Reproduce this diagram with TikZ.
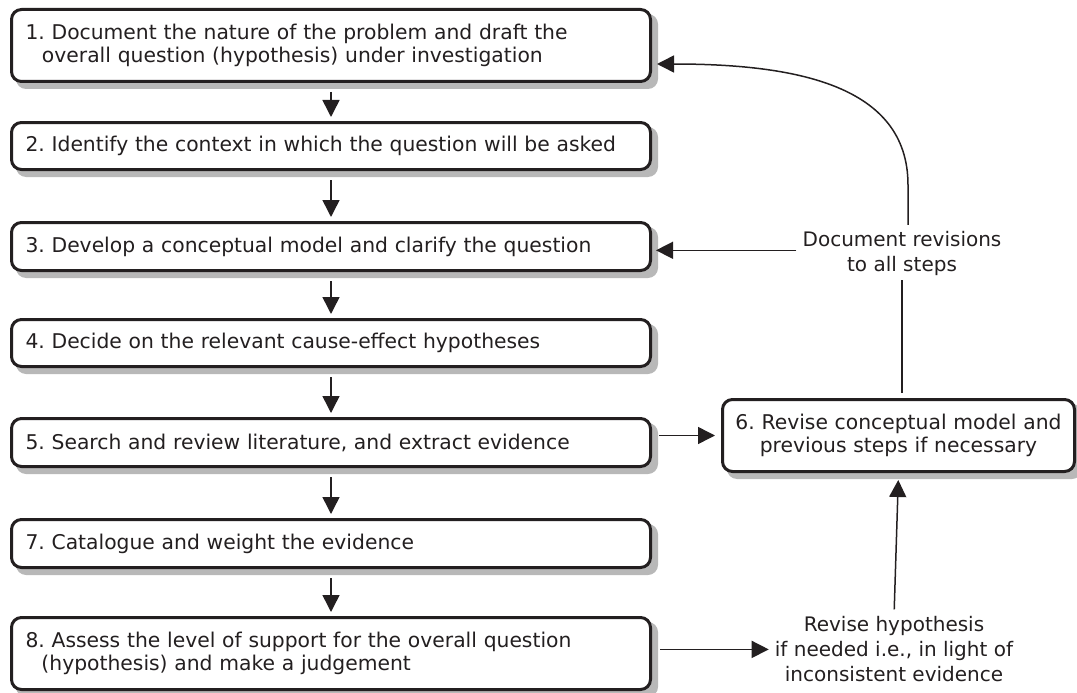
\documentclass[tikz,border=0pt]{standalone}
\usepackage{fontspec}
\setmainfont{DejaVu Sans}
\usetikzlibrary{arrows.meta,calc}
\definecolor{ink}{HTML}{231F20}
\definecolor{shadowgray}{HTML}{B8B8B8}
\pgfdeclarelayer{bg}
\pgfsetlayers{bg,main}
\frenchspacing
\begin{document}
\begin{tikzpicture}[x=1pt,y=-1pt,
  box/.style={draw=ink, line width=3pt, rounded corners=10pt, fill=white, text=ink,
    align=left, inner xsep=14pt, inner ysep=0pt, minimum width=639pt, text width=611pt,
    font=\fontsize{20.3}{23.5}\selectfont},
  sidebox/.style={box, align=center, minimum width=352pt, text width=340pt, inner xsep=6pt},
  lbl/.style={text=ink, align=center, inner sep=0pt, font=\fontsize{20}{25}\selectfont},
  shadowbox/.style={fill=shadowgray, rounded corners=10pt},
  arr/.style={draw=ink, line width=1.5pt, -{Triangle[length=17pt,width=17pt]}},
  ln/.style={draw=ink, line width=1.5pt}]
\useasboundingbox (0,0) rectangle (1077,693);

\node[box, minimum height=72pt] (b1) at (331,45.5)
  {1. Document the nature of the problem and draft the\\\hspace*{16.5pt}overall question (hypothesis) under investigation};
\node[box, minimum height=47pt] (b2) at (331,146) {2. Identify the context in which the question will be asked};
\node[box, minimum height=48pt] (b3) at (331,246.5) {3. Develop a conceptual model and clarify the question};
\node[box, minimum height=47pt] (b4) at (331,343) {4. Decide on the relevant cause-effect hypotheses};
\node[box, minimum height=48pt] (b5) at (331,442.5) {5. Search and review literature, and extract evidence};
\node[box, minimum height=48pt] (b7) at (331,543.5) {7. Catalogue and weight the evidence};
\node[box, minimum height=72pt] (b8) at (331,653.5)
  {8. Assess the level of support for the overall question\\\hspace*{16pt}(hypothesis) and make a judgement};
\node[sidebox, minimum height=72pt] (b6) at (898.5,435.5)
  {6. Revise conceptual model and\\previous steps if necessary};

\begin{pgfonlayer}{bg}
  \foreach \n in {b1,b2,b3,b4,b5,b7,b8,b6}
    \fill[shadowbox] ($(\n.north west)+(6,6)$) rectangle ($(\n.south east)+(6,6)$);
\end{pgfonlayer}

\node[lbl] (dr) at (902,253.3) {Document revisions\\to all steps};
\node[lbl] (rh) at (894,649.4) {Revise hypothesis\\if needed i.e., in light of\\inconsistent evidence};

\coordinate (drw) at ([yshift=3pt]dr.west);
\coordinate (drn) at ([xshift=6pt,yshift=6pt]dr.north);
\coordinate (b1e) at ([yshift=-18.5pt]b1.east);

\foreach \a/\b in {b1/b2,b2/b3,b3/b4,b4/b5,b5/b7,b7/b8}
  \draw[arr, shorten <=9pt, shorten >=4pt] (\a) -- (\b);

\draw[arr, shorten <=7pt, shorten >=6pt] (b5.east |- b6.west) -- (b6.west);
\draw[arr, shorten <=8pt, shorten >=6pt] (b8.east |- rh.west) -- (rh.west);
\draw[arr, shorten <=7pt, shorten >=7pt] (rh.north) -- (b6.south);
\draw[ln, shorten <=5pt, shorten >=4pt] (b6.north -| dr.south) -- (dr.south);
\draw[arr, shorten <=6pt, shorten >=4pt] (drw) -- (b3.east |- drw);
\draw[arr, shorten >=5pt] (drn) -- ++(0,-40)
  .. controls +(0,-100) and +(143,0) .. (b1e);
\end{tikzpicture}
\end{document}
